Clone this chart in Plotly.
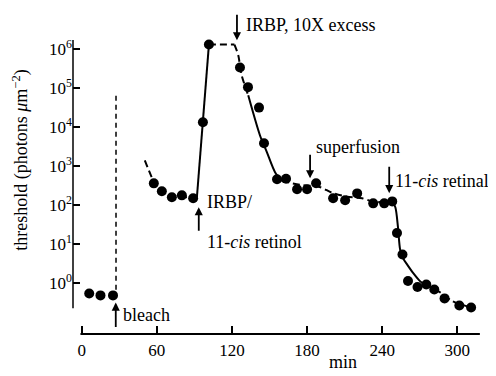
import math
import plotly.graph_objects as go

# ---------------- data (minutes, threshold photons um^-2) ----------------
pre_bleach_t = [6, 15, 25]
pre_bleach_v = [0.55, 0.49, 0.49]

dark_t = [57.6, 64, 72, 80, 89]
dark_v = [365, 229, 160, 180, 151]

irbp_t = [96.8, 101.6]
irbp_v = [1.35e4, 1.32e6]

excess_t = [126.4, 132.8, 141.6, 145.6, 156, 163.2, 172, 180, 187.2,
            200.8, 210.4, 220, 232.8, 241.6, 248]
excess_v = [3.4e5, 1.07e5, 3.2e4, 3.9e3, 466, 480, 257, 257, 366,
            151, 134, 202, 112, 112, 126]

retinal_t = [251.8, 256.2, 260.6, 268.2, 275.2, 281.6, 289.8, 301.6, 311.0]
retinal_v = [19.5, 5.5, 1.15, 0.80, 0.93, 0.69, 0.41, 0.27, 0.24]

# hand-drawn fit curves
curveA_t = [50.4, 55.7, 58, 64, 72, 80, 89]
curveA_v = [1410, 540, 365, 232, 175, 165, 158]

rise_t = [92, 96.8, 101.6]
rise_v = [158, 1.35e4, 1.32e6]

plateau_t = [101.6, 122]
plateau_v = [1.32e6, 1.32e6]

descent1_t = [122, 125, 127.8, 133]
descent1_v = [1.32e6, 7.1e5, 2.14e5, 6.6e4]

descent2_t = [133, 142.4, 147.8, 154.4, 160]
descent2_v = [6.6e4, 6170, 2340, 708, 417]

tail_t = [160, 175, 190, 200, 212, 224, 232, 240, 248]
tail_v = [417, 331, 295, 209, 166, 151, 126, 120, 126]

recov1_t = [248, 250.5, 252.6, 254.4, 257, 260, 264.8, 270.4, 274]
recov1_v = [126, 89, 27.5, 7.1, 4.2, 3.0, 1.82, 1.12, 0.93]

recov2_t = [274, 286, 296, 311]
recov2_v = [0.93, 0.59, 0.35, 0.24]

bleach_line_t = [27.4, 27.4]
bleach_line_v = [0.68, 6.6e4]

x_ticks = [0, 60, 120, 180, 240, 300]
y_ticks = [1, 10, 100, 1e3, 1e4, 1e5, 1e6]
y_ticktext = ["10<sup>%d</sup>" % i for i in range(7)]

FONT = "Liberation Serif"
DASH = "7px,4px"

fig = go.Figure()


def line(t, v, dash="solid", shape="spline", width=2):
    fig.add_trace(go.Scatter(x=t, y=v, mode="lines",
                             line=dict(color="black", width=width, dash=dash,
                                       shape=shape, smoothing=0.8),
                             hoverinfo="skip", cliponaxis=False))


line(curveA_t, curveA_v, DASH)
line(rise_t, rise_v, "solid", "linear")
line(plateau_t, plateau_v, DASH, "linear")
line(descent1_t, descent1_v, DASH)
line(descent2_t, descent2_v, "solid")
line(tail_t, tail_v, DASH)
line(recov1_t, recov1_v, "solid")
line(recov2_t, recov2_v, DASH)
line(bleach_line_t, bleach_line_v, "5px,4px", "linear", 1.5)

for t, v in [(pre_bleach_t, pre_bleach_v), (dark_t, dark_v), (irbp_t, irbp_v),
             (excess_t, excess_v), (retinal_t, retinal_v)]:
    fig.add_trace(go.Scatter(x=t, y=v, mode="markers",
                             marker=dict(color="black", size=10, symbol="circle"),
                             cliponaxis=False))

# ---------------- annotations ----------------
def arrow(x, yval, ay):
    fig.add_annotation(x=x, y=math.log10(yval), xref="x", yref="y", text="",
                       showarrow=True, ax=0, ay=ay, arrowhead=2, arrowsize=0.9,
                       arrowwidth=1.8, arrowcolor="black", standoff=0)


def label(x, yval, text):
    fig.add_annotation(x=x, y=math.log10(yval), xref="x", yref="y", text=text,
                       showarrow=False, xanchor="left", yanchor="middle",
                       font=dict(family=FONT, size=18, color="black"))


arrow(27.2, 0.32, 26)
label(31.5, 0.15, "bleach")
arrow(93.5, 89, 25)
label(98.5, 10 ** 2.09, "IRBP/")
label(98.5, 10 ** 1.06, "11-<i>cis</i> retinol")
arrow(124, 1.7e6, -27)
fig.add_annotation(x=129.5, y=1.051, xref="x", yref="paper", text="IRBP, 10X excess",
                   showarrow=False, xanchor="left", yanchor="middle",
                   font=dict(family=FONT, size=18, color="black"))
arrow(182.4, 490, -25)
label(185.8, 10 ** 3.49, "superfusion")
arrow(245.6, 204, -28)
label(248.8, 10 ** 2.62, "11-<i>cis</i> retinal")

fig.add_annotation(x=209, y=-0.137, xref="x", yref="paper", text="min",
                   showarrow=False, xanchor="center", yanchor="bottom",
                   font=dict(family=FONT, size=18, color="black"))
fig.add_annotation(x=-0.127, y=0.592, xref="paper", yref="paper",
                   text="threshold (photons <i>μ</i>m<sup>−2</sup>)",
                   textangle=-90, showarrow=False, xanchor="center", yanchor="middle",
                   font=dict(family=FONT, size=18, color="black"))

# detached axis lines
fig.add_shape(type="line", xref="paper", yref="paper", x0=0, x1=0, y0=0.088, y1=1,
              line=dict(color="black", width=1.5))
fig.add_shape(type="line", xref="x", yref="paper", x0=-1, x1=318, y0=0, y1=0,
              line=dict(color="black", width=2))

# the page body adds an 8px offset, so the figure is 8px smaller than the window
fig.update_layout(width=488, height=368, margin=dict(l=65, r=12, t=32, b=42),
                  plot_bgcolor="white", paper_bgcolor="white", showlegend=False,
                  font=dict(family=FONT, color="black"))
fig.update_xaxes(range=[-6.95, 321.3], tickvals=x_ticks, ticks="inside", ticklen=8,
                 tickwidth=1.5, tickcolor="black", showgrid=False, zeroline=False,
                 showline=False, tickfont=dict(family=FONT, size=17),
                 ticklabelstandoff=4)
fig.update_yaxes(type="log", range=[-1.30, 6.238], tickvals=y_ticks, ticktext=y_ticktext,
                 ticks="inside", ticklen=7, tickwidth=1.5, tickcolor="black",
                 showgrid=False, zeroline=False, showline=False,
                 tickfont=dict(family=FONT, size=17))

fig.write_html("out.html")
